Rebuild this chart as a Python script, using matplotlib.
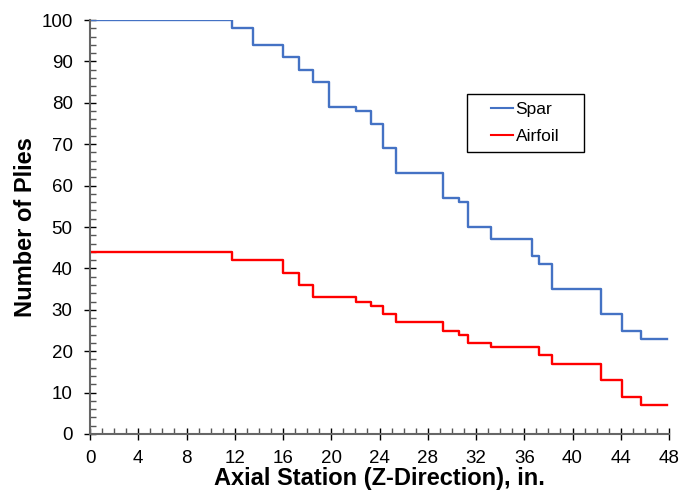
import matplotlib.pyplot as plt
from matplotlib.ticker import MultipleLocator
from matplotlib.patches import Rectangle

plt.rcParams['font.family'] = ['Liberation Sans', 'DejaVu Sans']

# step edges along the axial station (in.)
station = [0, 11.8, 13.5, 16.0, 17.3, 18.5, 19.8, 22.05, 23.3, 24.27, 25.35,
           29.3, 30.57, 31.3, 33.2, 36.6, 37.2, 38.3, 42.35, 44.1, 45.7, 47.8]
spar = [100, 98, 94, 91, 88, 85, 79, 78, 75, 69, 63, 57, 56, 50, 47, 43,
        41, 35, 29, 25, 23]
airfoil = [44, 42, 42, 39, 36, 33, 33, 32, 31, 29, 27, 25, 24, 22, 21, 21,
           19, 17, 13, 9, 7]

fig = plt.figure(figsize=(6.82, 5), dpi=100)
ax = fig.add_axes([0.132, 0.132, 0.849, 0.828])

ax.step(station, spar + [spar[-1]], where='post', color='#4472C4', lw=1.7, label='Spar')
ax.step(station, airfoil + [airfoil[-1]], where='post', color='#FF0000', lw=1.7, label='Airfoil')

ax.set_xlim(0, 48)
ax.set_ylim(0, 100)
ax.xaxis.set_major_locator(MultipleLocator(4))
ax.xaxis.set_minor_locator(MultipleLocator(1))
ax.yaxis.set_major_locator(MultipleLocator(10))
ax.yaxis.set_minor_locator(MultipleLocator(2))
ax.tick_params(which='major', direction='inout', length=9, width=1, labelsize=13.5,
               color='black')
ax.tick_params(axis='x', which='major', pad=7)
ax.tick_params(axis='y', which='major', pad=8)
ax.tick_params(which='minor', direction='in', length=4, width=1, color='#555555')

for s in ['top', 'right']:
    ax.spines[s].set_visible(False)
for s in ['left', 'bottom']:
    ax.spines[s].set_color('#666666')
    ax.spines[s].set_linewidth(1.5)

ax.set_xlabel('Axial Station (Z-Direction), in.', fontsize=17, fontweight='bold', labelpad=0)
ax.set_ylabel('Number of Plies', fontsize=17, fontweight='bold', labelpad=3)

# legend box
ax.add_patch(Rectangle((0.651, 0.681), 0.202, 0.140, transform=ax.transAxes,
                       facecolor='white', edgecolor='black', lw=1, zorder=4))
leg = ax.legend(loc='center left', bbox_to_anchor=(0.693, 0.751), fontsize=12.5,
                frameon=False, handlelength=1.25, handletextpad=0.15,
                borderpad=0, borderaxespad=0, labelspacing=0.65)
leg.set_zorder(5)
for line in leg.get_lines():
    line.set_linewidth(1.5)

plt.savefig('out.png', dpi=100)
